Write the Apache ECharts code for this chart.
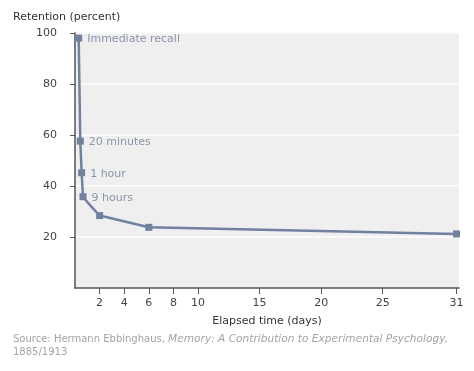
<!DOCTYPE html>
<html>
<head>
<meta charset="utf-8">
<script src="https://cdn.jsdelivr.net/npm/echarts@6/dist/echarts.min.js"></script>
<style>html,body{margin:0;padding:0;background:#fff}#c{width:474px;height:371px}</style>
</head>
<body>
<div id="c"></div>
<script>
// Data
var days = [0.3, 0.43, 0.54, 0.65, 1, 2, 6, 31];
var retention = [98, 57.6, 45.2, 35.8, 33.7, 28.4, 23.8, 21.2];
var pointLabels = ['Immediate recall', '20 minutes', '1 hour', '9 hours', '', '', '', ''];
var showMarker = [true, true, true, true, false, true, true, true];
var xTicks = [2, 4, 6, 8, 10, 15, 20, 25, 31];
var yTicks = [20, 40, 60, 80, 100];

var FONT = 'DejaVu Sans';
var lineColor = '#72819f';

var seriesData = days.map(function (d, i) {
  return {
    value: [d, retention[i]],
    symbol: showMarker[i] ? 'rect' : 'none',
    label: {
      show: pointLabels[i] !== '',
      formatter: pointLabels[i],
      position: 'right',
      distance: 5,
      offset: [0, 1],
      color: '#8b95aa',
      fontFamily: FONT,
      fontSize: 11
    }
  };
});

var chart = echarts.init(document.getElementById('c'), null, {renderer: 'canvas'});
chart.setOption({
  animation: false,
  textStyle: {fontFamily: FONT},
  grid: {left: 75, right: 15, top: 33, bottom: 83, show: true, backgroundColor: '#efefef', borderWidth: 0},
  xAxis: {
    type: 'value', min: 0, max: 31.2,
    name: 'Elapsed time (days)', nameLocation: 'middle', nameGap: 28,
    nameTextStyle: {color: '#333', fontSize: 11, fontFamily: FONT},
    axisLine: {show: true, lineStyle: {color: '#555', width: 1.5}},
    axisTick: {show: true, length: 6, lineStyle: {color: '#555'}, customValues: xTicks},
    axisLabel: {color: '#444', fontSize: 11, fontFamily: FONT, margin: 10, customValues: xTicks},
    splitLine: {show: false}
  },
  yAxis: {
    type: 'value', min: 0, max: 100,
    axisLine: {show: true, lineStyle: {color: '#555', width: 1.5}},
    axisTick: {show: true, length: 5, lineStyle: {color: '#555'}, customValues: yTicks},
    axisLabel: {color: '#444', fontSize: 11, fontFamily: FONT, margin: 18, customValues: yTicks},
    splitLine: {show: true, lineStyle: {color: '#fafafa', width: 2}}
  },
  graphic: [
    {type: 'text', left: 13, top: 12, style: {text: 'Retention (percent)', fill: '#333', font: '11px "DejaVu Sans"'}},
    {type: 'text', left: 13, top: 334, style: {
      text: '{n|Source: Hermann Ebbinghaus, }{i|Memory: A Contribution to Experimental Psychology,}\n{n|1885/1913}',
      rich: {
        n: {fill: '#a3a3a3', fontSize: 10, fontFamily: FONT, lineHeight: 13},
        i: {fill: '#a3a3a3', fontSize: 10.6, fontFamily: FONT, fontStyle: 'italic', lineHeight: 13}
      }
    }}
  ],
  series: [{
    type: 'line',
    data: seriesData,
    symbolSize: 7,
    itemStyle: {color: lineColor},
    lineStyle: {color: lineColor, width: 2.5},
    z: 3
  }]
});
</script>
</body>
</html>
